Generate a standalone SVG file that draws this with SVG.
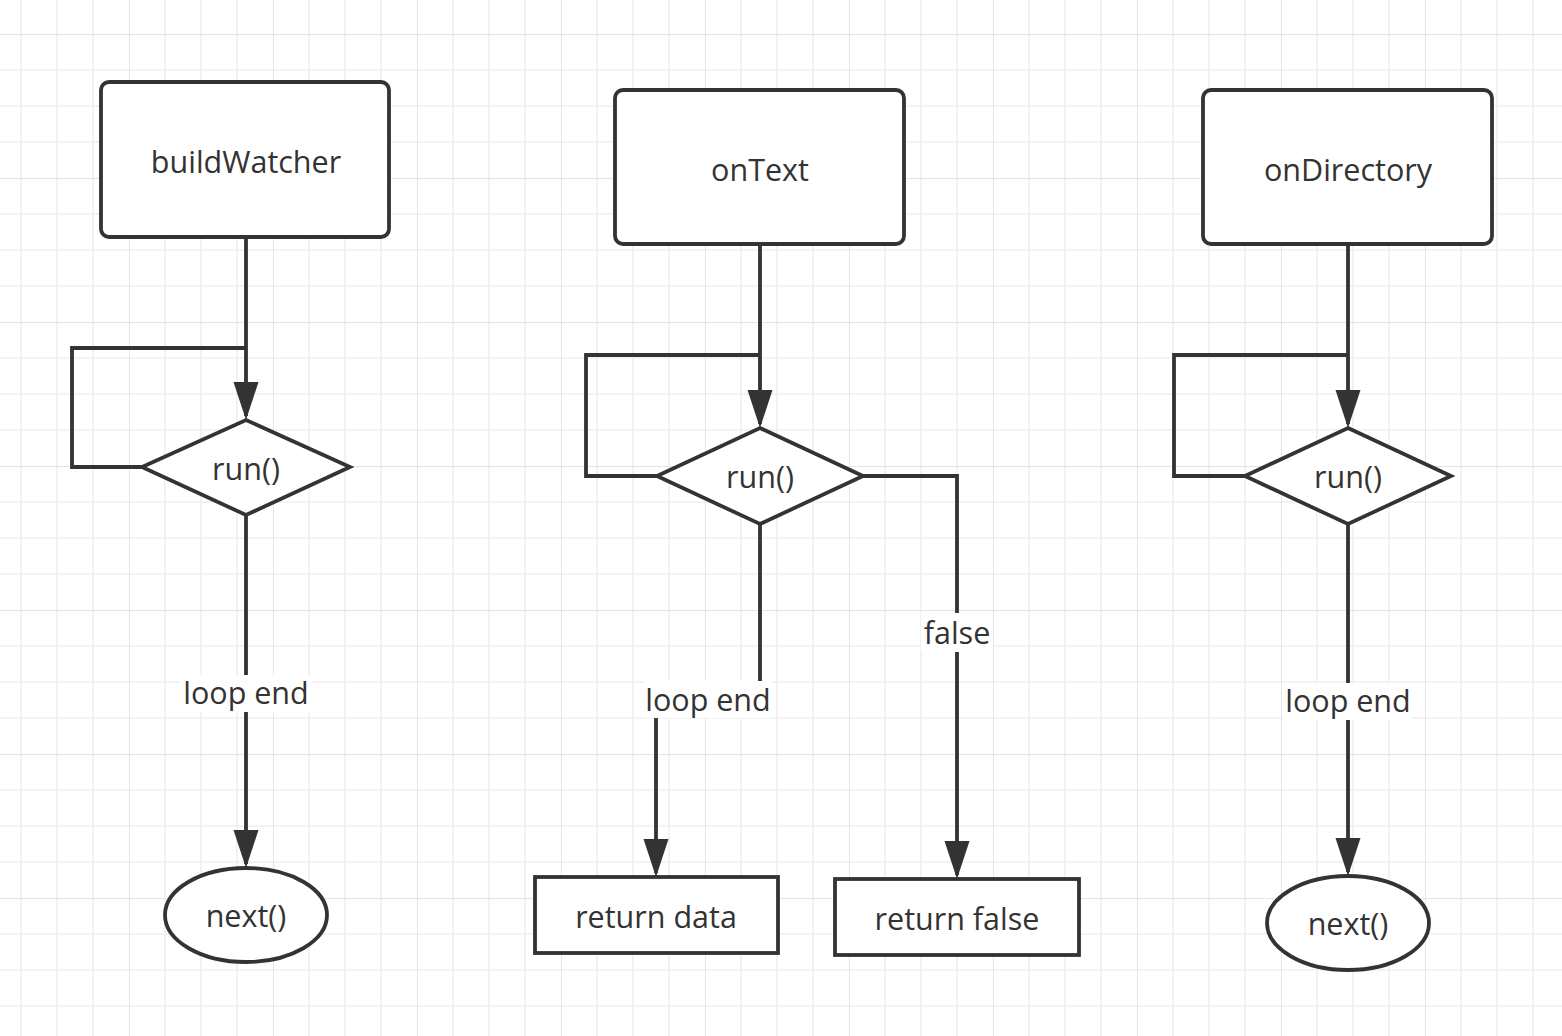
<svg xmlns="http://www.w3.org/2000/svg" width="1562" height="1036" viewBox="0 0 1562 1036">
<defs>
<pattern id="grid" patternUnits="userSpaceOnUse" x="129" y="34" width="144" height="144">
<path d="M36,0V144M72,0V144M108,0V144M0,36H144M0,72H144M0,108H144" stroke="#efefef" stroke-width="1.6" fill="none"/>
<path d="M0,0V144M0,0H144" stroke="#e4e4e4" stroke-width="1.8" fill="none"/>
</pattern>
<marker id="arr" markerUnits="userSpaceOnUse" markerWidth="40" markerHeight="26" refX="34" refY="12.5" orient="auto">
<path d="M0,0 L38,12.5 L0,25 z" fill="#333"/>
</marker>
<style>
.n{fill:#fff;stroke:#333;stroke-width:3.8}
.c{fill:none;stroke:#333;stroke-width:3.8}
.a{marker-end:url(#arr)}
.t{font-family:"Open Sans","Noto Sans","Liberation Sans",sans-serif;font-size:30.5px;fill:#333;text-anchor:middle}
.lb{fill:#fff}
</style>
</defs>
<rect width="1562" height="1036" fill="#fff"/>
<rect width="1562" height="1036" fill="url(#grid)"/>

<g id="connectors">
<path class="c a" d="M246,237V416"/>
<path class="c" d="M143,467H72V348H246"/>
<path class="c a" d="M246,515V864"/>
<path class="c a" d="M760,244V424"/>
<path class="c" d="M657,476H586V355H760"/>
<path class="c a" d="M863,476H957V875"/>
<path class="c a" d="M760,524V699H656V873"/>
<path class="c a" d="M1348,244V424"/>
<path class="c" d="M1245,476H1174V355H1348"/>
<path class="c a" d="M1348,524V872"/>
<g id="labels">
<rect class="lb" x="180" y="675" width="132" height="37"/>
<text class="t" x="246" y="704">loop end</text>
<rect class="lb" x="921" y="613" width="72" height="39"/>
<text class="t" x="957" y="644">false</text>
<rect class="lb" x="643" y="681" width="130" height="37"/>
<text class="t" x="708" y="711">loop end</text>
<rect class="lb" x="1283" y="683" width="130" height="37"/>
<text class="t" x="1348" y="712">loop end</text>
</g>
</g>

<g id="buildWatcher"><rect class="n" x="101" y="82" width="288" height="155" rx="8"/><text class="t" x="246" y="173">buildWatcher</text></g>
<g id="run1"><polygon class="n" points="246,420 350,467 246,515 142,467"/><text class="t" x="246" y="480">run()</text></g>
<g id="next1"><ellipse class="n" cx="246" cy="915" rx="81" ry="47"/><text class="t" x="246" y="927">next()</text></g>

<g id="onText"><rect class="n" x="615" y="90" width="289" height="154" rx="8"/><text class="t" x="760" y="181">onText</text></g>
<g id="run2"><polygon class="n" points="760,428 863,476 760,524 657,476"/><text class="t" x="760" y="488">run()</text></g>
<g id="returnData"><rect class="n" x="535" y="877" width="243" height="76"/><text class="t" x="656" y="928">return data</text></g>
<g id="returnFalse"><rect class="n" x="835" y="879" width="244" height="76"/><text class="t" x="957" y="930">return false</text></g>

<g id="onDirectory"><rect class="n" x="1203" y="90" width="289" height="154" rx="8"/><text class="t" x="1348" y="181">onDirectory</text></g>
<g id="run3"><polygon class="n" points="1348,428 1451,476 1348,524 1245,476"/><text class="t" x="1348" y="488">run()</text></g>
<g id="next3"><ellipse class="n" cx="1348" cy="923" rx="81" ry="47"/><text class="t" x="1348" y="935">next()</text></g>
</svg>
